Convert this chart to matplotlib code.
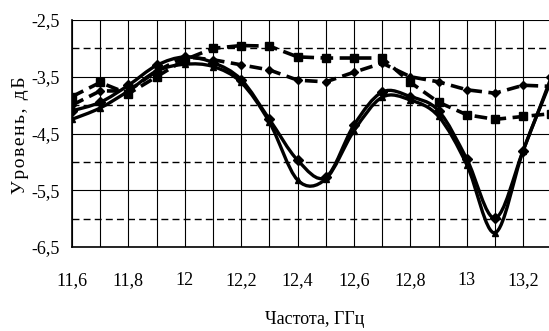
import numpy as np
import matplotlib
matplotlib.use("Agg")
import matplotlib.pyplot as plt
from matplotlib.path import Path
from matplotlib.patches import PathPatch

plt.rcParams['font.family'] = ['Liberation Serif', 'DejaVu Serif']

# frequency, GHz
freq = [11.6, 11.7, 11.8, 11.9, 12.0, 12.1, 12.2, 12.3, 12.4,
        12.5, 12.6, 12.7, 12.8, 12.9, 13.0, 13.1, 13.2, 13.3]

# levels, dB
lvl_sq = [-3.85, -3.6, -3.8, -3.5, -3.2, -3.0, -2.95, -2.96, -3.15,
          -3.17, -3.17, -3.17, -3.6, -3.95, -4.17, -4.25, -4.2, -4.15]
lvl_dm = [-4.0, -3.75, -3.75, -3.4, -3.15, -3.2, -3.29, -3.38, -3.56,
          -3.59, -3.42, -3.26, -3.5, -3.59, -3.73, -3.79, -3.65, -3.67]
lvl_s1 = [-4.1, -3.95, -3.65, -3.3, -3.15, -3.25, -3.55, -4.25, -4.97,
          -5.27, -4.35, -3.77, -3.85, -4.1, -4.95, -5.99, -4.8, -3.5]
lvl_s2 = [-4.25, -4.05, -3.75, -3.4, -3.28, -3.32, -3.6, -4.3, -5.32,
          -5.3, -4.45, -3.86, -3.91, -4.2, -5.05, -6.25, -4.8, -3.55]

xtick_vals = [11.6, 11.8, 12.0, 12.2, 12.4, 12.6, 12.8, 13.0, 13.2]
xtick_labels = ['11,6', '11,8', '12', '12,2', '12,4', '12,6', '12,8', '13', '13,2']
ytick_vals = [-2.5, -3.5, -4.5, -5.5, -6.5]
ytick_labels = ['-2,5', '-3,5', '-4,5', '-5,5', '-6,5']


def smooth_path(x, y):
    # excel-like smoothed line: cubic bezier through the points
    x = np.asarray(x, float)
    y = np.asarray(y, float)
    verts = [(x[0], y[0])]
    codes = [Path.MOVETO]
    n = len(x)
    for i in range(n - 1):
        i0 = max(i - 1, 0)
        i3 = min(i + 2, n - 1)
        c1 = (x[i] + (x[i + 1] - x[i0]) / 6, y[i] + (y[i + 1] - y[i0]) / 6)
        c2 = (x[i + 1] - (x[i3] - x[i]) / 6, y[i + 1] - (y[i3] - y[i]) / 6)
        verts += [c1, c2, (x[i + 1], y[i + 1])]
        codes += [Path.CURVE4] * 3
    return Path(verts, codes)


fig = plt.figure(figsize=(5.49, 3.31), dpi=100)
W, H = 549, 331
ax = fig.add_axes([72 / W, (H - 247) / H, (W - 72) / W, (247 - 20) / H])

# grid
ax.set_xticks(xtick_vals)
ax.set_xticks(np.arange(11.7, 13.3, 0.2), minor=True)
ax.set_yticks(ytick_vals)
ax.set_yticks([-3.0, -4.0, -5.0, -6.0], minor=True)
ax.grid(True, which='major', axis='both', color='black', lw=0.8)
ax.grid(True, which='minor', axis='x', color='black', lw=0.8)
ax.grid(True, which='minor', axis='y', color='black', lw=1.0, ls=(0, (5, 3)))
ax.set_axisbelow(True)

# dashed curves
ax.plot(freq, lvl_sq, color='black', lw=2.6, ls=(0, (3.5, 1.8)),
        marker='s', ms=5.5)
ax.plot(freq, lvl_dm, color='black', lw=2.6, ls=(0, (3.5, 1.8)),
        marker='D', ms=4.5)

# solid smoothed curves
for yy, mk in [(lvl_s1, 'D'), (lvl_s2, '^')]:
    ax.add_patch(PathPatch(smooth_path(freq, yy), fill=False,
                           edgecolor='black', lw=2.4))
    ax.plot(freq, yy, ls='none', marker=mk, ms=5, color='black')

ax.set_xlim(11.6, 11.6 + 477 / 282)
ax.set_ylim(-6.5, -2.5)
ax.set_xticklabels(xtick_labels)
ax.set_yticklabels(ytick_labels)
ax.tick_params(which='both', length=0, labelsize=13)
ax.tick_params(axis='x', pad=18)
ax.tick_params(axis='y', pad=9)
for s in ['top', 'right']:
    ax.spines[s].set_visible(False)
ax.spines['left'].set_linewidth(1.2)
ax.spines['bottom'].set_linewidth(1.2)

fig.text(315 / W, 1 - 320 / H, 'Частота, ГГц', ha='center', va='center', fontsize=13)
ylab = '\u200a'.join('Уровень, дБ')
fig.text(21 / W, 1 - 135 / H, ylab, rotation=90,
         ha='center', va='center', fontsize=14)

fig.savefig('out.png', dpi=100)
plt.close(fig)
